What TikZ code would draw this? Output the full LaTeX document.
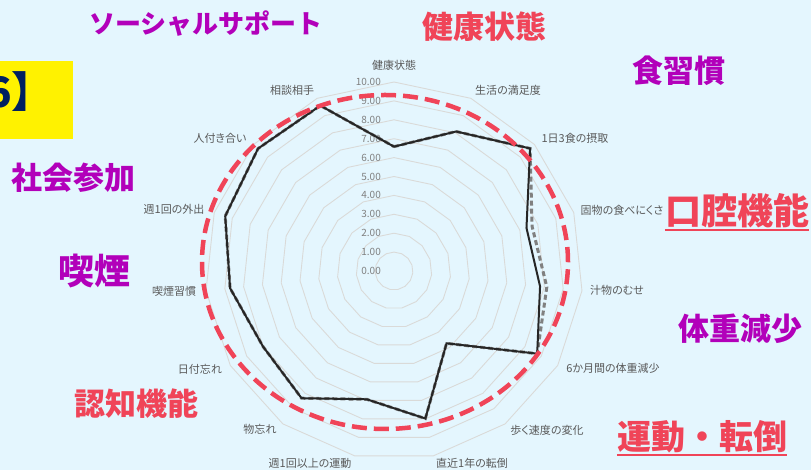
\documentclass[tikz,border=0pt]{standalone}
\usepackage{fontspec}
\newfontfamily\jp{Noto Sans CJK JP}
\newfontfamily\jpsmall[RawFeature=+palt]{Noto Sans CJK JP}
\definecolor{bgblue}{RGB}{228,246,254}
\definecolor{topicred}{RGB}{240,68,88}
\definecolor{topicpurple}{RGB}{178,0,186}
\definecolor{navy}{RGB}{0,32,96}
\definecolor{ringgray}{RGB}{218,218,216}
\definecolor{labelgray}{RGB}{89,89,89}
\definecolor{tickgray}{RGB}{128,128,128}
\tikzstyle{ring}=[draw=ringgray, line width=0.9pt, line join=round]
\tikzstyle{tick label}=[font=\jp\fontsize{10}{10}\selectfont, text=tickgray, anchor=east, inner sep=0pt]
\tikzstyle{axis label}=[font=\jpsmall\fontsize{11}{11}\selectfont, text=labelgray, inner sep=0pt]
\tikzstyle{topic}=[inner sep=0pt, font=\jp\bfseries\fontsize{31}{31}\selectfont]
\tikzstyle{big topic}=[topic, font=\jp\bfseries\fontsize{36}{36}\selectfont]
\tikzstyle{series a}=[draw=black!85, line width=2pt, line join=miter]
\tikzstyle{series b}=[draw=black!50, line width=3pt, dash pattern=on 5pt off 3pt]
\tikzstyle{goal}=[draw=topicred, line width=4.5pt, dash pattern=on 15pt off 7pt]
\tikzstyle{underline}=[draw=topicred, line width=2pt]

\begin{document}
\begin{tikzpicture}[x=1pt, y=1pt]
  \useasboundingbox[fill=bgblue] (0,0) rectangle (811,470);
  \fill[yellow] (0,331) rectangle (73,409);
  \node[inner sep=0pt, anchor=east, text=navy,
    font=\jp\bfseries\fontsize{42}{42}\selectfont] (tag) at (54,378) {6】};

  \begin{scope}[shift={(394,199)}]
    \foreach \k in {1,...,10}
      \draw[ring] (90:{\k*18.9})
        \foreach \i in {1,...,14} {-- ({90-24*\i}:{\k*18.9})} -- cycle;
    \foreach \k in {0,...,10}
      \node[tick label] (t\k) at (-13,{\k*18.9}) {\k.00};

    \foreach \v [count=\i from 0] in
      {6.58,8.08,9.69,7.37,7.77,8.75,4.73,7.98,6.94,8.32,8.0,8.72,9.39,9.68,9.58}
      \coordinate (a\i) at ({90-24*\i}:{\v*18.9});
    \foreach \v [count=\i from 0] in
      {6.58,8.08,9.69,7.68,8.13,8.75,4.73,7.98,6.94,8.32,8.0,8.72,9.39,9.68,9.58}
      \coordinate (b\i) at ({90-24*\i}:{\v*18.9});
    \draw[series b] (b0) \foreach \i in {1,...,14} {-- (b\i)} -- cycle;
    \draw[series a] (a0) \foreach \i in {1,...,14} {-- (a\i)} -- cycle;

    \draw[goal] (-9,9) ellipse [x radius=183, y radius=167];
  \end{scope}

  \foreach \t/\p [count=\i from 0] in {健康状態/{394,405}, 生活の満足度/{508,380},
      1日3食の摂取/{575,332}, 固物の食べにくさ/{622,260}, 汁物のむせ/{617,180},
      6か月間の体重減少/{613,102}, 歩く速度の変化/{547,40}, 直近1年の転倒/{472,7},
      週1回以上の運動/{310,7}, 物忘れ/{260,41}, 日付忘れ/{200,101},
      喫煙習慣/{174,179}, 週1回の外出/{174,261}, 人付き合い/{220,332},
      相談相手/{292,380}}
    \node[axis label] (ax\i) at (\p) {\t};

  \node[topic, text=topicpurple, font=\jp\bfseries\fontsize{26}{26}\selectfont]
    (social) at (206,446) {ソーシャルサポート};
  \node[topic, text=topicred] (kenko) at (484,443) {健康状態};
  \node[topic, text=topicpurple] (shoku) at (679,399) {食習慣};
  \node[big topic, text=topicred] (koku) at (737,259) {口腔機能};
  \node[topic, text=topicpurple] (taiju) at (740,141) {体重減少};
  \node[topic, text=topicred, font=\jp\bfseries\fontsize{34}{34}\selectfont]
    (undo) at (702,33) {運動・転倒};
  \node[topic, text=topicpurple] (shakai) at (74,292) {社会参加};
  \node[big topic, text=topicpurple] (kitsuen) at (94,199) {喫煙};
  \node[topic, text=topicred] (ninchi) at (136,66) {認知機能};

  \draw[underline] ([yshift=-2pt]koku.south west) -- ([yshift=-2pt]koku.south east);
  \draw[underline] ([yshift=-2pt]undo.south west) -- ([yshift=-2pt]undo.south east);
\end{tikzpicture}
\end{document}
